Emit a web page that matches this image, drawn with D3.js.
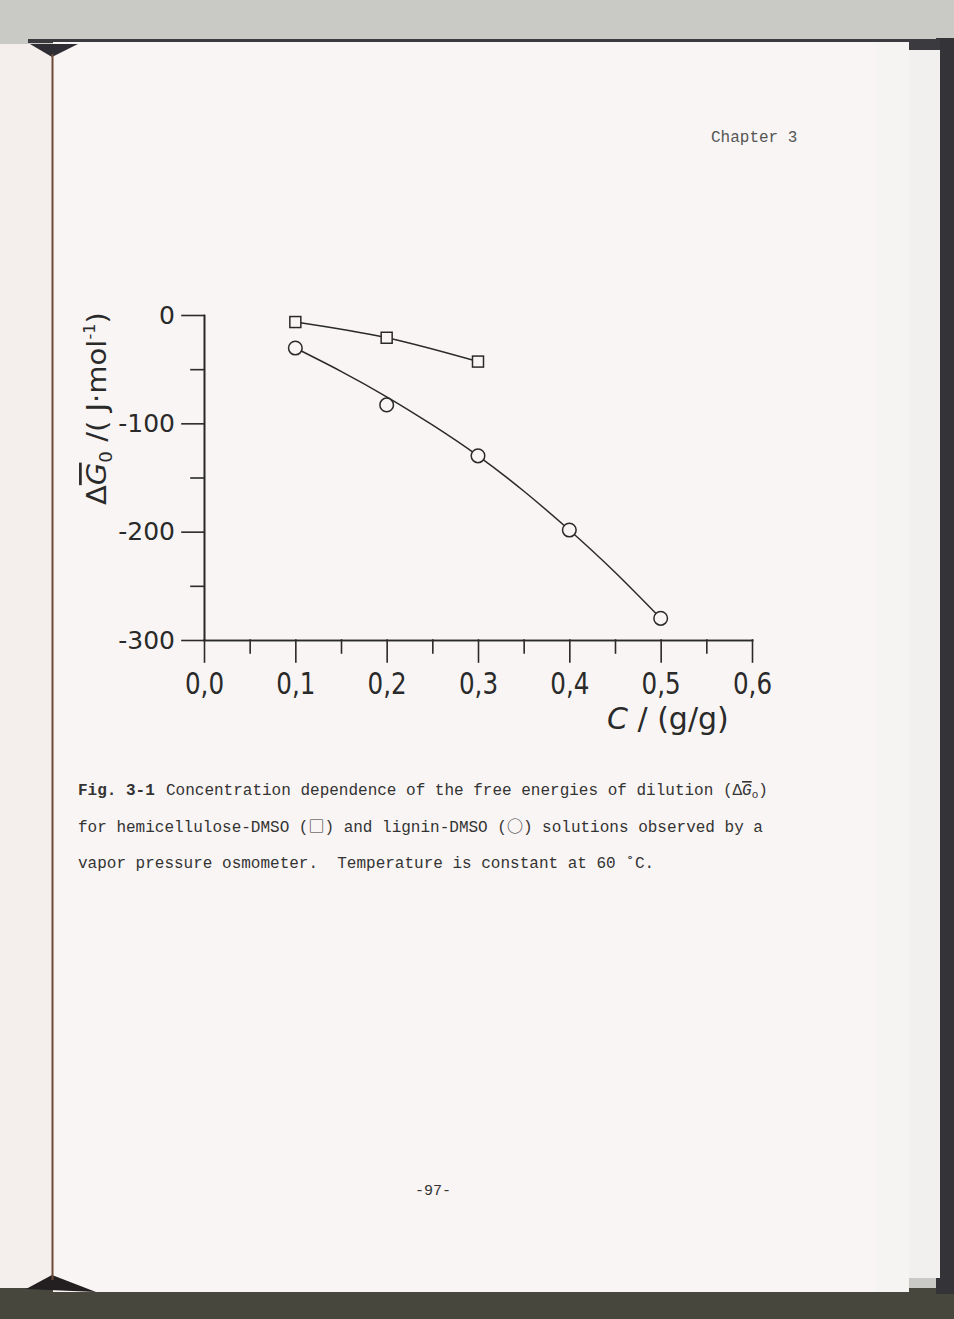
<!DOCTYPE html>
<html>
<head>
<meta charset="utf-8">
<script src="https://cdn.jsdelivr.net/npm/d3@7"></script>
<style>
  body { margin: 0; background: #c9cac6; }
  svg { display: block; }
</style>
</head>
<body>
<svg id="page" width="954" height="1319"></svg>
<script>
// hemicellulose-DMSO (squares)
let hemiConc = [0.1, 0.2, 0.3];
let hemiG = [-6.5, -21, -43];

// lignin-DMSO (circles)
let ligninConc = [0.1, 0.2, 0.3, 0.4, 0.5];
let ligninG = [-30.5, -83, -130, -198.5, -280];

// hand drawn smooth curve through the lignin points
let ligninFitConc = [0.1, 0.15, 0.2, 0.25, 0.3, 0.35, 0.4, 0.45, 0.5];
let ligninFitG = [-30.5, -52, -75.5, -101.5, -130, -162.5, -198.5, -237.5, -280];

let xMajor = [0, 0.1, 0.2, 0.3, 0.4, 0.5, 0.6];
let xTickLabels = ["0,0", "0,1", "0,2", "0,3", "0,4", "0,5", "0,6"];
let xMinor = [0.05, 0.15, 0.25, 0.35, 0.45, 0.55];
let yMajor = [0, -100, -200, -300];
let yTickLabels = ["0", "-100", "-200", "-300"];
let yMinor = [-50, -150, -250];

let svg = d3.select("#page");
let paper = "#f9f5f4";
let ink = "#2a2a2a";

// ---- the photographed book ----
svg.append("rect").attr("width", 954).attr("height", 1319).attr("fill", "#c9cac6");
svg.append("rect").attr("x", 0).attr("y", 1288).attr("width", 954).attr("height", 31).attr("fill", "#48473d");
svg.append("rect").attr("x", 936).attr("y", 38).attr("width", 18).attr("height", 1256).attr("fill", "#343337");
svg.append("rect").attr("x", 28).attr("y", 39).attr("width", 912).attr("height", 4).attr("fill", "#3b3a3e");
svg.append("rect").attr("x", 0).attr("y", 44).attr("width", 52).attr("height", 1244).attr("fill", "#f4efec");
svg.append("rect").attr("x", 53).attr("y", 42).attr("width", 856).attr("height", 1250).attr("fill", paper);
svg.append("rect").attr("x", 876).attr("y", 42).attr("width", 33).attr("height", 1250).attr("fill", "#f6f4f3");
svg.append("rect").attr("x", 909).attr("y", 43).attr("width", 31).attr("height", 7).attr("fill", "#3b3a3e");
svg.append("rect").attr("x", 909).attr("y", 50).attr("width", 31).attr("height", 1228).attr("fill", "#f2f0ef");
svg.append("path").attr("d", "M30,44 L78,44 L52,57 Z").attr("fill", "#2f2d34");
svg.append("path").attr("d", "M26,1289 L96,1292 L52,1275 Z").attr("fill", "#231f21");
svg.append("line")
  .attr("x1", 52.5).attr("x2", 52.5).attr("y1", 54).attr("y2", 1280)
  .attr("stroke", "#6d4a38").attr("stroke-width", 2);

let mono = "'Liberation Mono', 'DejaVu Sans Mono', monospace";
let cjk = "'Noto Sans CJK JP', 'DejaVu Sans Mono'";

svg.append("text")
  .attr("x", 711).attr("y", 142)
  .attr("font-family", mono).attr("font-size", 16)
  .attr("fill", "#555")
  .text("Chapter 3");

svg.append("text")
  .attr("x", 433).attr("y", 1195)
  .attr("text-anchor", "middle")
  .attr("font-family", mono).attr("font-size", 15)
  .attr("fill", "#333")
  .text("-97-");

// ---- chart ----
let x = d3.scaleLinear().domain([0, 0.6]).range([204, 752]);
let y = d3.scaleLinear().domain([-300, 0]).range([640, 315]);

let sans = "'DejaVu Sans', sans-serif";
let chart = svg.append("g").attr("stroke-linecap", "square");

let styleAxis = (g) => {
  g.selectAll("path, line").attr("stroke", ink).attr("stroke-width", 1.6);
  g.selectAll("text").attr("fill", ink).attr("font-family", sans);
};

// minor ticks first
chart.append("g")
  .attr("transform", `translate(${x(0)}, 0)`)
  .call(d3.axisLeft(y).tickValues(yMinor).tickSize(13).tickSizeOuter(0).tickFormat(""))
  .call(styleAxis);

chart.append("g")
  .attr("transform", `translate(0, ${y(-300)})`)
  .call(d3.axisBottom(x).tickValues(xMinor).tickSize(13).tickSizeOuter(0).tickFormat(""))
  .call(styleAxis);

let yAxis = chart.append("g")
  .attr("transform", `translate(${x(0)}, 0)`)
  .call(
    d3.axisLeft(y)
      .tickValues(yMajor)
      .tickSize(22)
      .tickSizeOuter(0)
      .tickPadding(7)
      .tickFormat((d, i) => yTickLabels[i])
  )
  .call(styleAxis);
yAxis.selectAll("text").attr("font-size", 25);

let xAxis = chart.append("g")
  .attr("transform", `translate(0, ${y(-300)})`)
  .call(
    d3.axisBottom(x)
      .tickValues(xMajor)
      .tickSize(22)
      .tickSizeOuter(0)
      .tickPadding(11)
      .tickFormat((d, i) => xTickLabels[i])
  )
  .call(styleAxis);
xAxis.selectAll("text")
  .attr("font-size", 30)
  .attr("transform", "scale(0.82, 1)");

// x axis title
let xTitle = chart.append("text")
  .attr("x", 607).attr("y", 729)
  .attr("font-family", sans).attr("font-size", 30)
  .attr("fill", ink);
xTitle.append("tspan").attr("font-style", "italic").text("C");
xTitle.append("tspan").text(" / (g/g)");

// y axis title, rotated, squeezed to the length in the figure
let yTitle = chart.append("text")
  .attr("font-family", sans).attr("font-size", 27)
  .attr("fill", ink);
yTitle.append("tspan").text("Δ");
yTitle.append("tspan")
  .attr("font-style", "italic")
  .attr("text-decoration", "overline")
  .text("G");
yTitle.append("tspan").attr("font-size", 17).attr("dy", 6).text("0");
yTitle.append("tspan").attr("dy", -6).text("\u00a0/(\u00a0J·mol");
yTitle.append("tspan").attr("font-size", 15).attr("dy", -11).text("-1");
yTitle.append("tspan").attr("dy", 11).text(")");
let titleLen = yTitle.node().getComputedTextLength();
yTitle.attr("transform", `translate(106, 505) rotate(-90) scale(${193 / titleLen}, 1)`);

// ---- series ----
let hemi = hemiConc.map((c, i) => ({ c: c, g: hemiG[i] }));
let lignin = ligninConc.map((c, i) => ({ c: c, g: ligninG[i] }));
let ligninFit = ligninFitConc.map((c, i) => ({ c: c, g: ligninFitG[i] }));

let line = d3.line().x((d) => x(d.c)).y((d) => y(d.g)).curve(d3.curveNatural);

chart.append("path")
  .datum(hemi)
  .attr("d", line)
  .attr("fill", "none")
  .attr("stroke", ink)
  .attr("stroke-width", 1.5);

chart.append("path")
  .datum(ligninFit)
  .attr("d", line)
  .attr("fill", "none")
  .attr("stroke", ink)
  .attr("stroke-width", 1.5);

let sq = 11;
chart.append("g")
  .selectAll("rect")
  .data(hemi)
  .enter()
  .append("rect")
  .attr("x", (d) => x(d.c) - sq / 2)
  .attr("y", (d) => y(d.g) - sq / 2)
  .attr("width", sq)
  .attr("height", sq)
  .attr("fill", paper)
  .attr("stroke", ink)
  .attr("stroke-width", 1.5);

chart.append("g")
  .selectAll("circle")
  .data(lignin)
  .enter()
  .append("circle")
  .attr("cx", (d) => x(d.c))
  .attr("cy", (d) => y(d.g))
  .attr("r", 6.8)
  .attr("fill", paper)
  .attr("stroke", ink)
  .attr("stroke-width", 1.5);

// ---- caption ----
let caption = svg.append("g")
  .attr("font-family", mono)
  .attr("font-size", 16)
  .attr("fill", "#333");

caption.append("text")
  .attr("x", 78).attr("y", 795)
  .attr("font-weight", "bold")
  .text("Fig. 3-1");

let cap1 = caption.append("text").attr("x", 166).attr("y", 795);
cap1.append("tspan").text("Concentration dependence of the free energies of dilution (Δ");
cap1.append("tspan")
  .attr("font-style", "italic")
  .attr("text-decoration", "overline")
  .text("G");
cap1.append("tspan").attr("font-size", 11).attr("dy", 3).text("o");
cap1.append("tspan").attr("dy", -3).text(")");

let cap2 = caption.append("text").attr("x", 78).attr("y", 832);
cap2.append("tspan").text("for hemicellulose-DMSO (");
cap2.append("tspan").attr("font-family", cjk).text("□");
cap2.append("tspan").text(") and lignin-DMSO (");
cap2.append("tspan").attr("font-family", cjk).text("○");
cap2.append("tspan").text(") solutions observed by a");

caption.append("text")
  .attr("x", 78).attr("y", 868)
  .text("vapor pressure osmometer.\u00a0 Temperature is constant at 60 ˚C.");
</script>
</body>
</html>
